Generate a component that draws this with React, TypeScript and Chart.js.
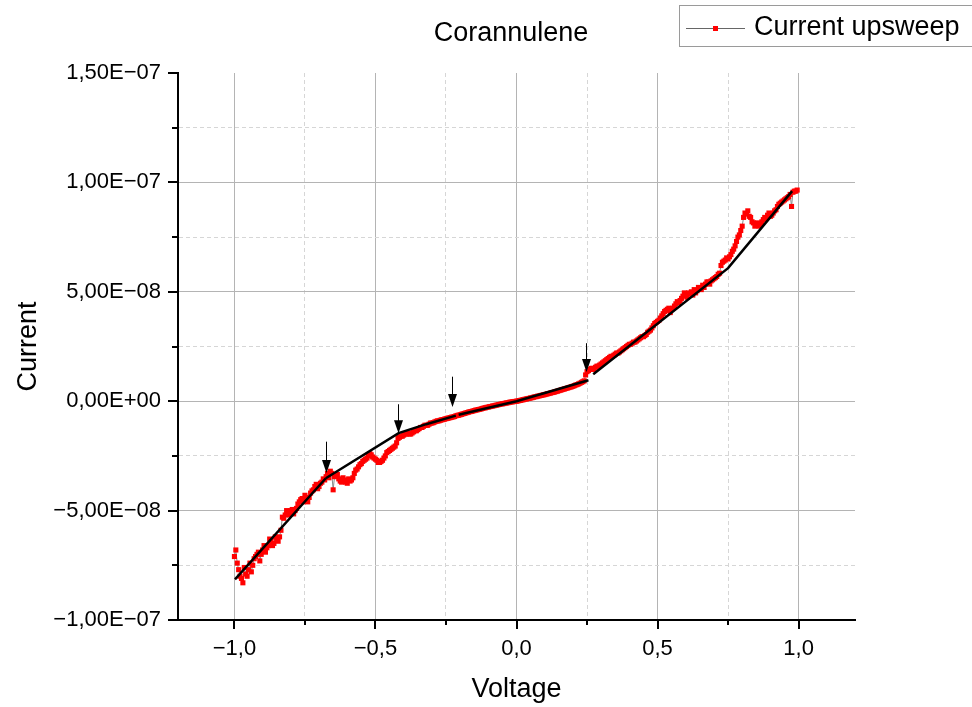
import React, { useEffect, useRef } from 'react';
import { Chart, registerables } from 'chart.js';

Chart.register(...registerables);

const FONT = "'Liberation Sans', Arial, sans-serif";

// Sweep voltage (V), first pass of samples
const voltageA = [
  -1.00, -0.99, -0.98, -0.97, -0.96, -0.95, -0.94, -0.93, -0.92, -0.91,
  -0.90, -0.89, -0.88, -0.87, -0.86, -0.85, -0.84, -0.83, -0.82, -0.81,
  -0.80, -0.79, -0.78, -0.77, -0.76, -0.75, -0.74, -0.73, -0.72, -0.71,
  -0.70, -0.69, -0.68, -0.67, -0.66, -0.65, -0.64, -0.63, -0.62, -0.61,
  -0.60, -0.59, -0.58, -0.57, -0.56, -0.55, -0.54, -0.53, -0.52, -0.51,
  -0.50, -0.49, -0.48, -0.47, -0.46, -0.45, -0.44, -0.43, -0.42, -0.41,
  -0.40, -0.39, -0.38, -0.37, -0.36, -0.35, -0.34, -0.33, -0.32, -0.31,
  -0.30, -0.29, -0.28, -0.27, -0.26, -0.25, -0.24, -0.23, -0.22, -0.21,
  -0.20, -0.19, -0.18, -0.17, -0.16, -0.15, -0.14, -0.13, -0.12, -0.11,
  -0.10, -0.09, -0.08, -0.07, -0.06, -0.05, -0.04, -0.03, -0.02, -0.01,
  0.00, 0.01, 0.02, 0.03, 0.04, 0.05, 0.06, 0.07, 0.08, 0.09,
  0.10, 0.11, 0.12, 0.13, 0.14, 0.15, 0.16, 0.17, 0.18, 0.19,
  0.20, 0.21, 0.22, 0.23, 0.24, 0.25, 0.26, 0.27, 0.28, 0.29,
  0.30, 0.31, 0.32, 0.33, 0.34, 0.35, 0.36, 0.37, 0.38, 0.39,
  0.40, 0.41, 0.42, 0.43, 0.44, 0.45, 0.46, 0.47, 0.48, 0.49,
  0.50, 0.51, 0.52, 0.53, 0.54, 0.55, 0.56, 0.57, 0.58, 0.59,
  0.60, 0.61, 0.62, 0.63, 0.64, 0.65, 0.66, 0.67, 0.68, 0.69,
  0.70, 0.71, 0.72, 0.73, 0.74, 0.75, 0.76, 0.77, 0.78, 0.79,
  0.80, 0.81, 0.82, 0.83, 0.84, 0.85, 0.86, 0.87, 0.88, 0.89,
  0.90, 0.91, 0.92, 0.93, 0.94, 0.95, 0.96, 0.97, 0.98, 0.99,
];

// Current upsweep for voltageA, in units of 1E-08 A
const currentA = [
  -7.1, -7.4, -8.0, -8.3, -7.9, -7.7, -7.8, -7.2, -7.0, -7.3,
  -6.8, -6.9, -6.6, -6.4, -6.5, -6.3, -6.2, -5.3, -5.2, -5.1,
  -5.0, -5.15, -4.9, -4.6, -4.45, -4.3, -4.6, -4.2, -4.05, -3.8,
  -3.9, -3.7, -3.6, -3.3, -3.2, -4.05, -3.4, -3.55, -3.7, -3.6,
  -3.75, -3.65, -3.5, -3.15, -3.0, -2.85, -2.7, -2.6, -2.4, -2.55,
  -2.65, -2.8, -2.75, -2.6, -2.35, -2.25, -2.15, -2.05, -1.7, -1.6,
  -1.55, -1.5, -1.5, -1.45, -1.35, -1.3, -1.2, -1.15, -1.1, -1.05,
  -1.0, -0.95, -0.9, -0.87, -0.84, -0.8, -0.77, -0.73, -0.7, -0.65,
  -0.62, -0.58, -0.54, -0.5, -0.47, -0.43, -0.4, -0.37, -0.33, -0.3,
  -0.27, -0.24, -0.21, -0.18, -0.15, -0.12, -0.09, -0.07, -0.04, -0.02,
  0.0, 0.03, 0.06, 0.09, 0.12, 0.15, 0.18, 0.21, 0.24, 0.27,
  0.3, 0.34, 0.37, 0.4, 0.44, 0.48, 0.52, 0.56, 0.6, 0.64,
  0.68, 0.74, 0.79, 0.86, 0.93, 1.35, 1.45, 1.5, 1.55, 1.6,
  1.7, 1.8, 1.9, 2.0, 2.05, 2.15, 2.2, 2.3, 2.4, 2.5,
  2.6, 2.65, 2.7, 2.8, 2.9, 2.95, 3.05, 3.2, 3.35, 3.55,
  3.65, 3.8, 4.0, 4.15, 4.25, 4.2, 4.35, 4.55, 4.6, 4.8,
  4.85, 4.95, 5.0, 5.1, 5.05, 5.15, 5.3, 5.35, 5.45, 5.5,
  5.6, 5.7, 5.85, 6.35, 6.45, 6.5, 6.7, 6.95, 7.3, 7.6,
  8.0, 8.6, 8.7, 8.4, 8.15, 8.1, 8.0, 8.2, 8.4, 8.5,
  8.45, 8.6, 8.75, 9.0, 9.1, 9.2, 9.3, 9.45, 9.55, 9.6,
];

// Sweep voltage (V), interleaved samples
const voltageB = [
  -0.995, -0.985, -0.975, -0.965, -0.955, -0.945, -0.935, -0.925, -0.915, -0.905,
  -0.895, -0.885, -0.875, -0.865, -0.855, -0.845, -0.835, -0.825, -0.815, -0.805,
  -0.795, -0.785, -0.775, -0.765, -0.755, -0.745, -0.735, -0.725, -0.715, -0.705,
  -0.695, -0.685, -0.675, -0.665, -0.655, -0.645, -0.635, -0.625, -0.615, -0.605,
  -0.595, -0.585, -0.575, -0.565, -0.555, -0.545, -0.535, -0.525, -0.515, -0.505,
  -0.495, -0.485, -0.475, -0.465, -0.455, -0.445, -0.435, -0.425, -0.415, -0.405,
  -0.395, -0.385, -0.375, -0.365, -0.355, -0.345, -0.335, -0.325, -0.315, -0.305,
  -0.295, -0.285, -0.275, -0.265, -0.255, -0.245, -0.235, -0.225, -0.215, -0.205,
  -0.195, -0.185, -0.175, -0.165, -0.155, -0.145, -0.135, -0.125, -0.115, -0.105,
  -0.095, -0.085, -0.075, -0.065, -0.055, -0.045, -0.035, -0.025, -0.015, -0.005,
  0.005, 0.015, 0.025, 0.035, 0.045, 0.055, 0.065, 0.075, 0.085, 0.095,
  0.105, 0.115, 0.125, 0.135, 0.145, 0.155, 0.165, 0.175, 0.185, 0.195,
  0.205, 0.215, 0.225, 0.235, 0.245, 0.255, 0.265, 0.275, 0.285, 0.295,
  0.305, 0.315, 0.325, 0.335, 0.345, 0.355, 0.365, 0.375, 0.385, 0.395,
  0.405, 0.415, 0.425, 0.435, 0.445, 0.455, 0.465, 0.475, 0.485, 0.495,
  0.505, 0.515, 0.525, 0.535, 0.545, 0.555, 0.565, 0.575, 0.585, 0.595,
  0.605, 0.615, 0.625, 0.635, 0.645, 0.655, 0.665, 0.675, 0.685, 0.695,
  0.705, 0.715, 0.725, 0.735, 0.745, 0.755, 0.765, 0.775, 0.785, 0.795,
  0.805, 0.815, 0.825, 0.835, 0.845, 0.855, 0.865, 0.875, 0.885, 0.895,
  0.905, 0.915, 0.925, 0.935, 0.945, 0.955, 0.965, 0.975, 0.985, 0.995,
];

// Current upsweep for voltageB, in units of 1E-08 A
const currentB = [
  -6.8, -7.7, -8.1, -7.6, -8.0, -7.4, -7.5, -7.1, -6.9, -7.0,
  -6.6, -6.7, -6.3, -6.6, -6.2, -6.4, -5.9, -5.35, -5.0, -5.2,
  -4.95, -5.0, -4.7, -4.5, -4.6, -4.4, -4.4, -4.1, -3.9, -4.0,
  -3.75, -3.55, -3.45, -3.5, -3.3, -3.45, -3.35, -3.65, -3.5, -3.7,
  -3.55, -3.6, -3.3, -3.1, -2.9, -2.75, -2.65, -2.5, -2.45, -2.6,
  -2.7, -2.8, -2.7, -2.5, -2.3, -2.2, -2.1, -1.9, -1.65, -1.6,
  -1.5, -1.45, -1.5, -1.4, -1.35, -1.25, -1.2, -1.1, -1.1, -1.0,
  -0.98, -0.92, -0.9, -0.85, -0.82, -0.78, -0.75, -0.72, -0.67, -0.64,
  -0.6, -0.56, -0.52, -0.48, -0.45, -0.41, -0.38, -0.35, -0.31, -0.28,
  -0.25, -0.22, -0.19, -0.16, -0.13, -0.11, -0.08, -0.05, -0.03, -0.01,
  0.01, 0.04, 0.07, 0.1, 0.13, 0.16, 0.2, 0.23, 0.26, 0.29,
  0.32, 0.35, 0.39, 0.42, 0.46, 0.5, 0.54, 0.58, 0.62, 0.66,
  0.71, 0.76, 0.82, 0.89, 1.2, 1.4, 1.5, 1.45, 1.6, 1.65,
  1.75, 1.85, 1.95, 2.05, 2.1, 2.2, 2.25, 2.35, 2.45, 2.55,
  2.6, 2.7, 2.75, 2.85, 2.95, 3.0, 3.15, 3.25, 3.45, 3.6,
  3.7, 3.9, 4.1, 4.2, 4.05, 4.25, 4.45, 4.5, 4.7, 4.95,
  4.75, 4.9, 4.85, 4.95, 5.2, 5.1, 5.2, 5.45, 5.35, 5.55,
  5.65, 5.8, 6.2, 6.4, 6.55, 6.6, 6.85, 7.1, 7.5, 7.8,
  8.4, 8.55, 8.45, 8.2, 8.0, 8.15, 8.1, 8.3, 8.35, 8.6,
  8.5, 8.7, 8.9, 9.05, 9.15, 9.25, 9.35, 8.9, 9.6, 9.65,
];

// Linear fit segments (V, 1E-08 A)
const fit1V = [-0.998, -0.676];
const fit1I = [-8.14, -3.52];
const fit2V = [-0.676, -0.418, -0.32, -0.215];
const fit2I = [-3.52, -1.46, -1.05, -0.66];
const fit3V = [-0.205, 0.0, 0.255];
const fit3I = [-0.62, 0.0, 0.96];
const fit4V = [0.272, 0.75, 0.977];
const fit4I = [1.23, 6.08, 9.6];

// Arrows marking transitions (V, top and tip current in 1E-08 A)
const arrowV = [-0.676, -0.419, -0.23, 0.245];
const arrowTop = [-1.85, -0.14, 1.12, 2.65];
const arrowTip = [-3.28, -1.46, -0.27, 1.33];

const xTickValues = [-1, -0.75, -0.5, -0.25, 0, 0.25, 0.5, 0.75, 1];
const xTickLabels = ['−1,0', '', '−0,5', '', '0,0', '', '0,5', '', '1,0'];
const yTickValues = [-10, -7.5, -5, -2.5, 0, 2.5, 5, 7.5, 10, 12.5, 15];
const yTickLabels = ['−1,00E−07', '', '−5,00E−08', '', '0,00E+00', '', '5,00E−08', '', '1,00E−07', '', '1,50E−07'];

const chartTitle = 'Corannulene';
const seriesName = 'Current upsweep';
const xTitle = 'Voltage';
const yTitle = 'Current';

const pairs = (xs: number[], ys: number[]) => xs.map((x, i) => ({ x, y: ys[i] }));

const decorPlugin = {
  id: 'decor',
  afterDatasetsDraw(chart: any) {
    const ctx = chart.ctx;
    const xs = chart.scales.x;
    const ys = chart.scales.y;
    ctx.save();
    ctx.strokeStyle = '#000';
    ctx.fillStyle = '#000';
    ctx.lineWidth = 1;
    arrowV.forEach((v, i) => {
      const px = Math.round(xs.getPixelForValue(v)) + 0.5;
      const top = ys.getPixelForValue(arrowTop[i]);
      const tip = ys.getPixelForValue(arrowTip[i]);
      const headH = 13;
      const headW = 4.5;
      ctx.beginPath();
      ctx.moveTo(px, top);
      ctx.lineTo(px, tip - headH + 1);
      ctx.stroke();
      ctx.beginPath();
      ctx.moveTo(px - headW, tip - headH);
      ctx.lineTo(px + headW, tip - headH);
      ctx.lineTo(px, tip);
      ctx.closePath();
      ctx.fill();
    });
    ctx.restore();
  },
  afterDraw(chart: any) {
    const ctx = chart.ctx;
    const xs = chart.scales.x;
    const ys = chart.scales.y;
    const area = chart.chartArea;
    ctx.save();
    ctx.strokeStyle = '#000';
    ctx.lineWidth = 2;
    xTickValues.forEach((v, i) => {
      const px = Math.round(xs.getPixelForValue(v));
      const len = xTickLabels[i] ? 9 : 5;
      ctx.beginPath();
      ctx.moveTo(px, area.bottom);
      ctx.lineTo(px, area.bottom + len);
      ctx.stroke();
    });
    yTickValues.forEach((v, i) => {
      const py = Math.round(ys.getPixelForValue(v));
      const len = yTickLabels[i] ? 10 : 6;
      ctx.beginPath();
      ctx.moveTo(area.left, py);
      ctx.lineTo(area.left - len, py);
      ctx.stroke();
    });
    ctx.fillStyle = '#000';
    ctx.font = `27px ${FONT}`;
    ctx.textAlign = 'center';
    ctx.textBaseline = 'middle';
    ctx.fillText(chartTitle, 511, 34);
    ctx.strokeStyle = '#9a9a9a';
    ctx.lineWidth = 1;
    ctx.strokeRect(679.5, 5.5, 320, 41);
    ctx.strokeStyle = '#666';
    ctx.beginPath();
    ctx.moveTo(686, 28.5);
    ctx.lineTo(745, 28.5);
    ctx.stroke();
    ctx.fillStyle = '#ff0000';
    ctx.fillRect(713, 26, 5, 5);
    ctx.fillStyle = '#000';
    ctx.textAlign = 'left';
    ctx.fillText(seriesName, 754, 28);
    ctx.restore();
  },
};

export default function App() {
  const ref = useRef<HTMLCanvasElement | null>(null);
  useEffect(() => {
    document.body.style.margin = '0';
    if (!ref.current) return;
    const sweep = pairs(voltageA, currentA).concat(pairs(voltageB, currentB)).sort((a, b) => a.x - b.x);
    const chart = new Chart(ref.current, {
      type: 'scatter',
      data: {
        datasets: [
          { label: 'fit1', data: pairs(fit1V, fit1I), showLine: true, borderColor: '#000', borderWidth: 2.5, pointRadius: 0, order: 0 },
          { label: 'fit2', data: pairs(fit2V, fit2I), showLine: true, borderColor: '#000', borderWidth: 2.5, pointRadius: 0, order: 0 },
          { label: 'fit3', data: pairs(fit3V, fit3I), showLine: true, borderColor: '#000', borderWidth: 2.5, pointRadius: 0, order: 0 },
          { label: 'fit4', data: pairs(fit4V, fit4I), showLine: true, borderColor: '#000', borderWidth: 2.5, pointRadius: 0, order: 0 },
          {
            label: seriesName,
            data: sweep,
            showLine: true,
            borderColor: '#8a8a8a',
            borderWidth: 1,
            pointStyle: 'rect',
            pointRadius: 3.6,
            pointBorderWidth: 0,
            pointBackgroundColor: '#ff0000',
            order: 1,
          },
        ],
      },
      options: {
        animation: false,
        responsive: false,
        layout: { padding: { left: 0, right: 117, top: 73, bottom: 0 } },
        plugins: { legend: { display: false }, title: { display: false }, tooltip: { enabled: false } },
        scales: {
          x: {
            type: 'linear',
            min: -1.2,
            max: 1.2,
            afterBuildTicks: (s: any) => { s.ticks = xTickValues.map((v) => ({ value: v })); },
            afterFit: (s: any) => { s.height = 87; },
            ticks: {
              autoSkip: false,
              maxRotation: 0,
              padding: 16,
              color: '#000',
              font: { family: FONT, size: 22 },
              callback: (_v: any, i: number) => xTickLabels[i],
            },
            grid: {
              drawTicks: false,
              lineWidth: 1,
              color: (c: any) => (c.type === 'tick' && !xTickLabels[c.index] ? '#d6d6d6' : '#b4b4b4'),
            },
            border: {
              color: '#000',
              width: 2,
              dash: (c: any) => (c.type === 'tick' && !xTickLabels[c.index] ? [4, 3] : []),
            },
            title: { display: true, text: xTitle, color: '#000', font: { family: FONT, size: 27 }, padding: { top: 0, bottom: 1 } },
          },
          y: {
            type: 'linear',
            min: -10,
            max: 15,
            afterBuildTicks: (s: any) => { s.ticks = yTickValues.map((v) => ({ value: v })); },
            afterFit: (s: any) => { s.width = 178; },
            ticks: {
              autoSkip: false,
              padding: 17,
              color: '#000',
              font: { family: FONT, size: 22 },
              callback: (_v: any, i: number) => yTickLabels[i],
            },
            grid: {
              drawTicks: false,
              lineWidth: 1,
              color: (c: any) => {
                if (c.type !== 'tick') return '#b4b4b4';
                if (c.index === yTickValues.length - 1 || c.index === 0) return 'rgba(0,0,0,0)';
                return yTickLabels[c.index] ? '#b4b4b4' : '#d6d6d6';
              },
            },
            border: {
              color: '#000',
              width: 2,
              dash: (c: any) => (c.type === 'tick' && !yTickLabels[c.index] ? [4, 3] : []),
            },
            title: { display: true, text: yTitle, color: '#000', font: { family: FONT, size: 27 }, padding: { top: 12, bottom: 0 } },
          },
        },
      },
      plugins: [decorPlugin],
    });
    return () => chart.destroy();
  }, []);
  return (
    <div style={{ position: 'absolute', left: 0, top: 0, width: 972, height: 707 }}>
      <canvas ref={ref} width={972} height={707} />
    </div>
  );
}
